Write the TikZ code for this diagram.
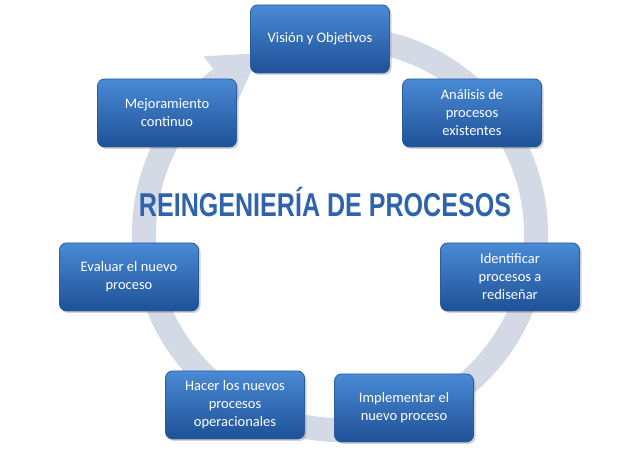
\documentclass[tikz,border=0pt]{standalone}
\usepackage{fontspec}
\setmainfont{Carlito}
\newfontfamily\titlefont{Liberation Sans}
\usetikzlibrary{calc,shadows}
\definecolor{ringc}{HTML}{D3DAE6}
\definecolor{boxtop}{HTML}{4A8AD6}
\definecolor{boxbot}{HTML}{1E5196}
\definecolor{boxline}{HTML}{2A5B9C}
\definecolor{titc}{HTML}{2F63AE}
\tikzset{
  pbox/.style={rounded corners=7pt, top color=boxtop, bottom color=boxbot, draw=boxline, line width=0.8pt,
    minimum width=139pt, minimum height=68pt, align=center, text=white,
    font=\fontsize{14.5}{18}\selectfont, drop shadow={opacity=0.35, shadow xshift=2pt, shadow yshift=-2pt}},
  ringline/.style={line width=24pt, draw=ringc},
}
\begin{document}
\begin{tikzpicture}[x=1pt,y=1pt]
\useasboundingbox (0,0) rectangle (640,452);
\coordinate (c) at (340,218);
\draw[ringline] ($(c)+(80:196)$) arc[start angle=80, end angle=-233, radius=196];
\fill[ringc] ($(c)+(127.5:224)$) -- ($(c)+(114:198)$) -- ($(c)+(127.5:168)$) -- cycle;
\node[pbox] (v) at (320,413) {Visión y Objetivos};
\node[pbox] (a) at (472,339) {Análisis de\\procesos\\existentes};
\node[pbox] (i) at (510,175) {Identificar\\procesos a\\rediseñar};
\node[pbox] (im) at (404,44) {Implementar el\\nuevo proceso};
\node[pbox] (h) at (235,47) {Hacer los nuevos\\procesos\\operacionales};
\node[pbox] (e) at (129,175) {Evaluar el nuevo\\proceso};
\node[pbox] (m) at (167,339) {Mejoramiento\\continuo};
\node[text=titc, font=\titlefont\bfseries\fontsize{33}{36}\selectfont, xscale=0.76] (t) at (325,250) {REINGENIERÍA DE PROCESOS};
\end{tikzpicture}
\end{document}
